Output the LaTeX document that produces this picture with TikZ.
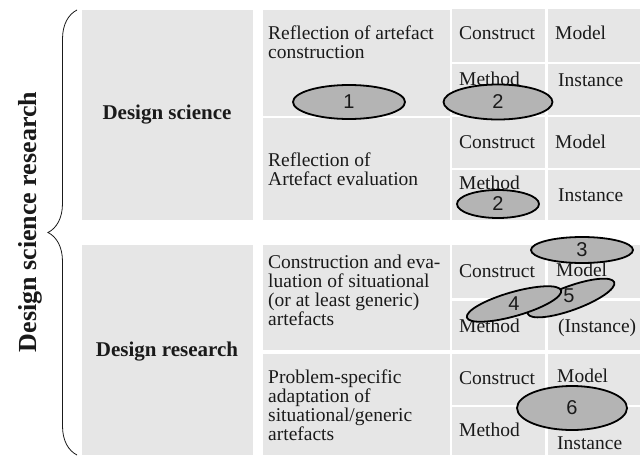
\documentclass[tikz,border=0pt]{standalone}
\usepackage{fontspec}
\setmainfont{Liberation Serif}
\newfontfamily\numfont{Liberation Sans}
\usetikzlibrary{shapes.geometric,decorations.pathreplacing}
\definecolor{cellgray}{HTML}{E6E6E6}
\definecolor{ovalgray}{HTML}{B4B4B4}
\definecolor{inkgray}{HTML}{1A1A1A}
\tikzset{
  txt/.style={anchor=base west, inner sep=0pt, font=\fontsize{19.5}{19.3}\selectfont, text=inkgray},
  head/.style={inner sep=0pt, font=\fontsize{21}{24}\selectfont\bfseries, text=inkgray},
  oval/.style={ellipse, draw=black, line width=1.8pt, fill=ovalgray, inner sep=0pt},
  num/.style={inner sep=0pt, font=\fontsize{20}{20}\numfont, text=inkgray},
}
\begin{document}
\begin{tikzpicture}[x=1pt,y=-1pt]
  \useasboundingbox[fill=white] (0,0) rectangle (644,455);
  % left column
  \fill[cellgray] (82,10) rectangle (253,220);
  \fill[cellgray] (82,245) rectangle (253,455);
  % middle column
  \foreach \ya/\yb in {10/116,118/220,245/350,354/455}{%
    \fill[cellgray] (263,\ya) rectangle (450,\yb);
  }
  % artefact type cells
  \foreach \ya/\yb in {9/62,64/115,117/168,170/220,245/298,301/350,354/405,407/455}{%
    \fill[cellgray] (452,\ya) rectangle (545,\yb);
    \fill[cellgray] (548,\ya) rectangle (640,\yb);
  }
  \node[head] (ds) at (167,115) {Design science};
  \node[head] (dr) at (167,352) {Design research};
  \node[head, font=\fontsize{26}{26}\selectfont\bfseries, rotate=90] (dsr) at (30,222) {Design science research};
  \draw[decorate, decoration={brace, amplitude=29pt}, line width=0.8pt, draw=inkgray] (77,455) -- (77,10);
  % activities
  \foreach \t [count=\r from 0] in {Reflection of artefact,construction}{%
    \node[txt] (ra\r) at (268,{39+\r*19.3}) {\t};
  }
  \foreach \t [count=\r from 0] in {Reflection of,Artefact evaluation}{%
    \node[txt] (re\r) at (268,{166+\r*19.3}) {\t};
  }
  \foreach \t [count=\r from 0] in {Construction and eva-,luation of situational,(or at least generic),artefacts}{%
    \node[txt] (ce\r) at (268,{268+\r*19.3}) {\t};
  }
  \foreach \t [count=\r from 0] in {Problem-specific,adaptation of,situational/generic,artefacts}{%
    \node[txt] (pa\r) at (268,{383+\r*19.3}) {\t};
  }
  % artefact types
  \node[txt] (con1) at (459,39) {Construct};
  \node[txt] (mod1) at (555,39) {Model};
  \node[txt] (met1) at (459,85) {Method};
  \node[txt] (ins1) at (558,86) {Instance};
  \node[txt] (con2) at (459,148) {Construct};
  \node[txt] (mod2) at (555,148) {Model};
  \node[txt] (met2) at (459,189) {Method};
  \node[txt] (ins2) at (558,201) {Instance};
  \node[txt] (con3) at (459,277) {Construct};
  \node[txt] (mod3) at (556,276) {Model};
  \node[txt] (met3) at (459,332) {Method};
  \node[txt] (ins3) at (558,332) {(Instance)};
  \node[txt] (con4) at (459,384) {Construct};
  \node[txt] (mod4) at (557,382) {Model};
  \node[txt] (met4) at (459,436) {Method};
  \node[txt] (ins4) at (557,449) {Instance};
  % contributions
  \node[oval, minimum width=112pt, minimum height=34pt] (o1) at (349,102) {};
  \node[oval, minimum width=109pt, minimum height=35pt] (o2) at (498,102) {};
  \node[oval, minimum width=82pt, minimum height=28pt] (o2b) at (498,204) {};
  \node[oval, minimum width=102pt, minimum height=26pt] (o3) at (582,250) {};
  \node[oval, minimum width=92pt, minimum height=24pt, rotate=20] (o5) at (571,298) {};
  \node[oval, minimum width=98pt, minimum height=24pt, rotate=16] (o4) at (514,304) {};
  \node[oval, minimum width=110pt, minimum height=44pt] (o6) at (572,408) {};
  \foreach \o/\n in {o1/1,o2/2,o2b/2,o3/3,o4/4,o6/6}{%
    \node[num] (n\o) at (\o.center) {\n};
  }
  \node[num] (no5) at (569,296) {5};
\end{tikzpicture}
\end{document}
